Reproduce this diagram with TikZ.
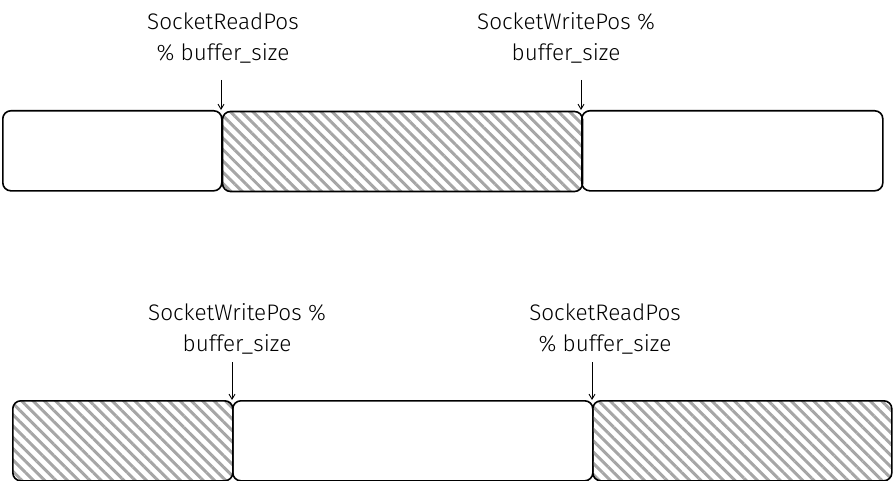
\documentclass[tikz,border=0pt]{standalone}
\usepackage{fontspec}
\setmainfont{Fira Sans Light}[BoldFont={Fira Sans}]
\usetikzlibrary{patterns.meta,arrows.meta}
\begin{document}
\begin{tikzpicture}[x=1pt,y=-1pt,
  cell/.style={draw=black,line width=1.6pt,rounded corners=8pt,rectangle,inner sep=0pt,anchor=north west,minimum height=80pt},
  hatched/.style={cell,pattern={Lines[angle=-45,distance=8pt,line width=3pt]},pattern color=black!35},
  lbl/.style={align=center,font=\fontsize{22.5pt}{31pt}\selectfont,inner sep=0pt},
  ptr/.style={-{Straight Barb[length=5pt,width=6pt]},line width=0.9pt}
  ]
\useasboundingbox (0,0) rectangle (893,481);
% top row
\node[cell,minimum width=219pt] (t1) at (2,110) {};
\node[hatched,minimum width=360pt] (t2) at (221,110) {};
\node[cell,minimum width=301pt] (t3) at (581,110) {};
% bottom row
\node[hatched,minimum width=220pt] (b1) at (12,400) {};
\node[cell,minimum width=360pt] (b2) at (232,400) {};
\node[hatched,minimum width=299pt] (b3) at (592,400) {};
% labels
\node[lbl] (lt1) at (223,38) {SocketReadPos\\\% buffer\_size};
\node[lbl] (lt2) at (566,38) {SocketWritePos \%\\buffer\_size};
\node[lbl] (lb1) at (237,329) {SocketWritePos \%\\buffer\_size};
\node[lbl] (lb2) at (605,329) {SocketReadPos\\\% buffer\_size};
% arrows
\coordinate (at1) at (221,80);
\coordinate (at2) at (581,80);
\coordinate (ab1) at (232,362);
\coordinate (ab2) at (592,362);
\draw[ptr] (at1) -- (t2.north west);
\draw[ptr] (at2) -- (t3.north west);
\draw[ptr] (ab1) -- (b2.north west);
\draw[ptr] (ab2) -- (b3.north west);
\end{tikzpicture}
\end{document}
